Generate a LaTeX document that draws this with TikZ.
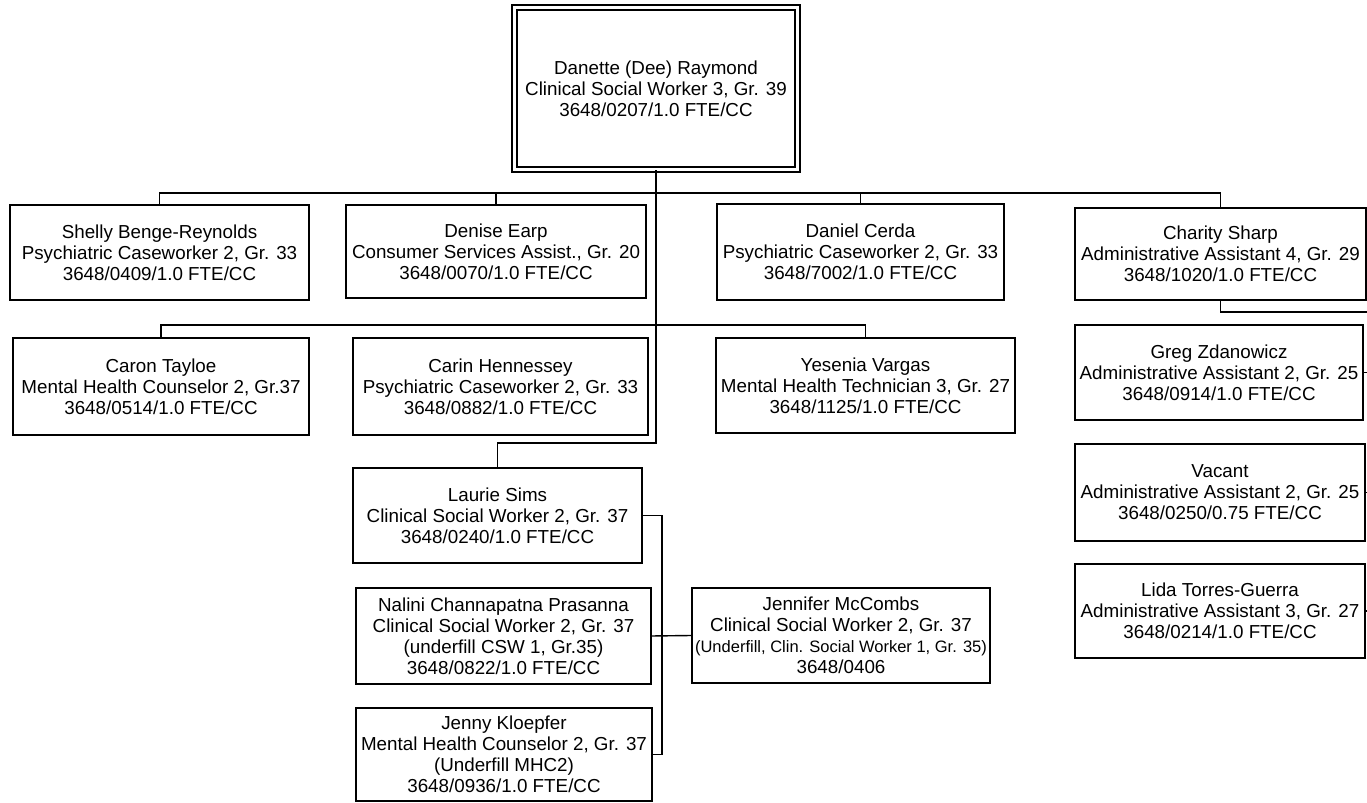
\documentclass[tikz,border=0pt]{standalone}
\usepackage{fontspec}
\setmainfont{Liberation Sans}

\begin{document}
\begin{tikzpicture}[x=0.02cm, y=-0.02cm,
	post/.style={draw, line width=0.8pt, align=center, inner sep=0pt, font=\fontsize{10.7}{12}\selectfont},
	size/.style 2 args={minimum width=#1*0.02cm, minimum height=#2*0.02cm},
	link/.style={line width=0.8pt}]
			\useasboundingbox (0,0) rectangle (1367,803);
			\node[post, double, double distance=0.07cm, size={283}{162}] (dee) at (656,88.5) {Danette (Dee) Raymond\\Clinical Social Worker 3, Gr. 39\\3648/0207/1.0 FTE/CC};

			\node[post, size={299}{95}] (shelly) at (159.5,252.5) {Shelly Benge-Reynolds\\Psychiatric Caseworker 2, Gr. 33\\3648/0409/1.0 FTE/CC};
			\node[post, size={300}{93}] (denise) at (496,251.5) {Denise Earp\\Consumer Services Assist., Gr. 20\\3648/0070/1.0 FTE/CC};
			\node[post, size={287}{96}] (daniel) at (860.5,252) {Daniel Cerda\\Psychiatric Caseworker 2, Gr. 33\\3648/7002/1.0 FTE/CC};
			\node[post, size={291}{92}] (charity) at (1220.5,254) {Charity Sharp\\Administrative Assistant 4, Gr. 29\\3648/1020/1.0 FTE/CC};

			\node[post, size={296}{97}] (caron) at (161,386.5) {Caron Tayloe\\Mental Health Counselor 2, Gr.37\\3648/0514/1.0 FTE/CC};
			\node[post, size={295}{97}] (carin) at (500.5,386.5) {Carin Hennessey\\Psychiatric Caseworker 2, Gr. 33\\3648/0882/1.0 FTE/CC};
			\node[post, size={299}{95}] (yesenia) at (865.5,385.5) {Yesenia Vargas\\Mental Health Technician 3, Gr. 27\\3648/1125/1.0 FTE/CC};

			\node[post, size={289}{95}] (laurie) at (497.5,515.5) {Laurie Sims\\Clinical Social Worker 2, Gr. 37\\3648/0240/1.0 FTE/CC};
			\node[post, size={295}{96}] (nalini) at (503.5,636) {Nalini Channapatna Prasanna\\Clinical Social Worker 2, Gr. 37\\(underfill CSW 1, Gr.35)\\3648/0822/1.0 FTE/CC};
			\node[post, size={296}{93}] (jenny) at (504,754.5) {Jenny Kloepfer\\Mental Health Counselor 2, Gr. 37\\(Underfill MHC2)\\3648/0936/1.0 FTE/CC};
			\node[post, size={298}{95}] (jennifer) at (841,635.5) {Jennifer McCombs\\Clinical Social Worker 2, Gr. 37\\{\fontsize{9.4}{12}\selectfont(Underfill, Clin. Social Worker 1, Gr. 35)}\\3648/0406};

			\node[post, size={288}{95}] (greg) at (1219,372.5) {Greg Zdanowicz\\Administrative Assistant 2, Gr. 25\\3648/0914/1.0 FTE/CC};
			\node[post, size={290}{97}] (vacant) at (1220,492.5) {Vacant\\Administrative Assistant 2, Gr. 25\\3648/0250/0.75 FTE/CC};
			\node[post, size={290}{94}] (lida) at (1220,611) {Lida Torres-Guerra\\Administrative Assistant 3, Gr. 27\\3648/0214/1.0 FTE/CC};

			\coordinate (bar1) at (656,193);
			\coordinate (bar2) at (656,325);
			\coordinate (turn) at (656,443);
			\coordinate (bus) at (662,636);
			\coordinate (edge) at (1367,312);

			\draw[link] (shelly.north) |- (bar1) -| (charity.north);
			\draw[link] (denise.north) -- (denise.north |- bar1);
			\draw[link] (daniel.north) -- (daniel.north |- bar1);
			\draw[link] (caron.north) |- (bar2) -| (yesenia.north);
			\draw[link] (dee.south) -- (turn) -| (laurie.north);
			\draw[link] (laurie.east) -| (bus) |- (jenny.east);
			\draw[link] (nalini.east) -- (jennifer.west);
			\draw[link] (charity.south) |- (edge);
			\draw[link] (greg.east) -- (greg.east -| edge);
			\draw[link] (vacant.east) -- (vacant.east -| edge);
			\draw[link] (lida.east) -- (lida.east -| edge);
			\end{tikzpicture}
\end{document}
